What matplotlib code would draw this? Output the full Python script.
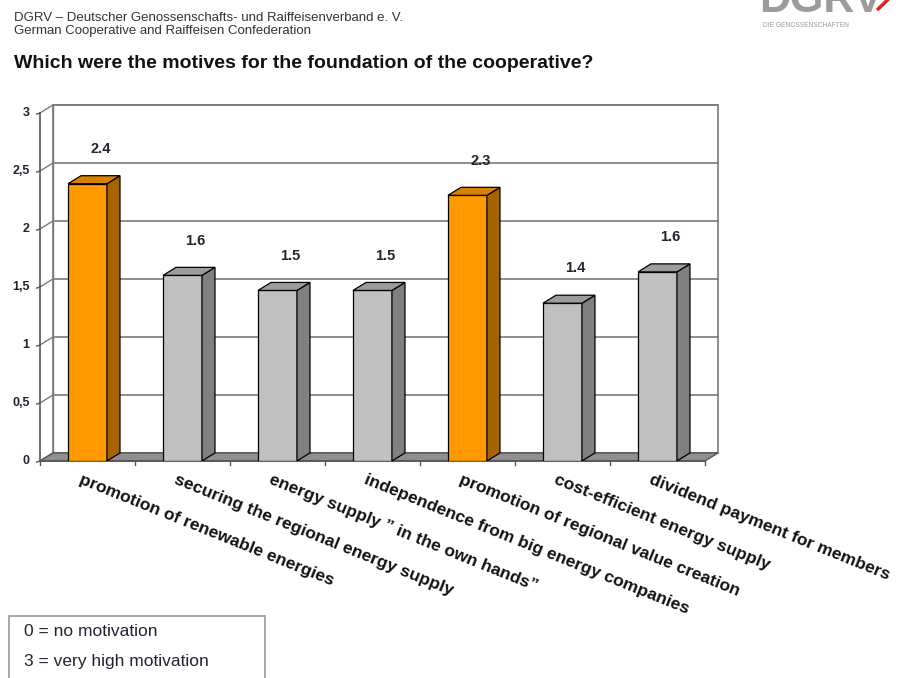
import numpy as np
import matplotlib.pyplot as plt
from matplotlib.patches import Polygon, Rectangle

plt.rcParams['font.family'] = ['Liberation Sans', 'DejaVu Sans']

# data (mean motivation, 0..3)
motives = ["promotion of renewable energies",
           "securing the regional energy supply",
           "energy supply \u201d in the own hands\u201d",
           "independence from big energy companies",
           "promotion of regional value creation",
           "cost-efficient energy supply",
           "dividend payment for members"]
scores = [2.39, 1.60, 1.47, 1.47, 2.29, 1.36, 1.63]
highlight = [True, False, False, False, True, False, False]
yticks = [0, 0.5, 1, 1.5, 2, 2.5, 3]
ytick_labels = ["0", "0,5", "1", "1,5", "2", "2,5", "3"]

# depth of the fake 3d box, in data units
DX, DY = 0.137, 0.069
W = 0.41
grid_c = '#7a7a7a'

fig = plt.figure(figsize=(9.13, 6.78), dpi=100)
ax = fig.add_axes([0.0438, 0.3201, 0.7426, 0.5251])
ax.set_xlim(-0.5, 6.5 + DX)
ax.set_ylim(0, 3 + DY)
ax.axis('off')

n = len(scores)
x0, x1 = -0.5, n - 0.5

# back wall
ax.add_patch(Rectangle((x0 + DX, DY), x1 - x0, 3, fc='white', ec=grid_c, lw=1.2, zorder=1, clip_on=False))
# floor
ax.add_patch(Polygon([(x0, 0), (x1, 0), (x1 + DX, DY), (x0 + DX, DY)], closed=True,
                     fc='#8f8f8f', ec='#555555', lw=1.0, zorder=2, clip_on=False))
# grid on back wall and left wall
for t in yticks:
    ax.plot([x0 + DX, x1 + DX], [t + DY, t + DY], color=grid_c, lw=1.2, zorder=1.5, clip_on=False)
    ax.plot([x0, x0 + DX], [t, t + DY], color=grid_c, lw=1.0, zorder=1.5, clip_on=False)
    ax.plot([x0 - 0.035, x0], [t - 0.01, t], color='#555555', lw=1.0, clip_on=False)
ax.plot([x0, x0], [0, 3], color='#555555', lw=1.2, zorder=3, clip_on=False)
ax.plot([x0 + DX, x0 + DX], [DY, 3 + DY], color=grid_c, lw=1.0, zorder=1.5, clip_on=False)
ax.plot([x0, x1], [0, 0], color='#555555', lw=1.2, zorder=3, clip_on=False)
for b in np.arange(x0, x1 + 1):
    ax.plot([b, b], [0, -0.035], color='#555555', lw=1.0, clip_on=False)

for t, lab in zip(yticks, ytick_labels):
    ax.text(x0 - 0.11, t, lab, ha='right', va='center', fontsize=9, fontweight='bold',
            color='#222233', clip_on=False)

# bars
for i, (v, hi) in enumerate(zip(scores, highlight)):
    front = '#ff9900' if hi else '#c0c0c0'
    side = '#a66300' if hi else '#808080'
    top = '#d98200' if hi else '#9c9c9c'
    l, r = i - W / 2, i + W / 2
    ax.add_patch(Rectangle((l, 0), W, v, fc=front, ec='black', lw=0.9, zorder=4))
    ax.add_patch(Polygon([(r, 0), (r + DX, DY), (r + DX, v + DY), (r, v)], closed=True,
                         fc=side, ec='black', lw=0.9, zorder=4))
    ax.add_patch(Polygon([(l, v), (r, v), (r + DX, v + DY), (l + DX, v + DY)], closed=True,
                         fc=top, ec='black', lw=0.9, zorder=4))
    ax.text(i + DX, v + 0.3, f"{v:.1f}", ha='center', va='center', fontsize=10.5,
            fontweight='bold', color='#222233', zorder=5)
    ax.text(i - 0.05, -0.1, motives[i], rotation=-22, rotation_mode='anchor', ha='left', va='top',
            fontsize=12.5, fontweight='bold', color='#111111', clip_on=False)

# header texts
fig.text(0.0153, 0.973, "DGRV \u2013 Deutscher Genossenschafts- und Raiffeisenverband e. V.",
         fontsize=9.5, color='#333333', va='center')
fig.text(0.0153, 0.954, "German Cooperative and Raiffeisen Confederation",
         fontsize=9.5, color='#333333', va='center')
fig.text(0.0153, 0.907, "Which were the motives for the foundation of the cooperative?",
         fontsize=14, fontweight='bold', color='#111111', va='center')

# logo (cut by the top edge, as in the slide)
fig.text(0.832, 0.982, "DGRV", fontsize=31, fontweight='bold', color='#9b9b9b', va='baseline')
fig.text(0.836, 0.963, "DIE GENOSSENSCHAFTEN", fontsize=4.8, color='#9b9b9b', va='center')
fig.add_artist(plt.Line2D([0.962, 0.972], [0.987, 1.0], color='#e0202a', lw=2.5))

# legend box
fig.add_artist(Rectangle((0.0099, -0.01), 0.2804, 0.1011, transform=fig.transFigure,
                         fc='white', ec='#999999', lw=1.2))
fig.text(0.026, 0.068, "0 = no motivation", fontsize=12.5, color='#222233', va='center')
fig.text(0.026, 0.024, "3 = very high motivation", fontsize=12.5, color='#222233', va='center')

fig.savefig('out.png', dpi=100)
